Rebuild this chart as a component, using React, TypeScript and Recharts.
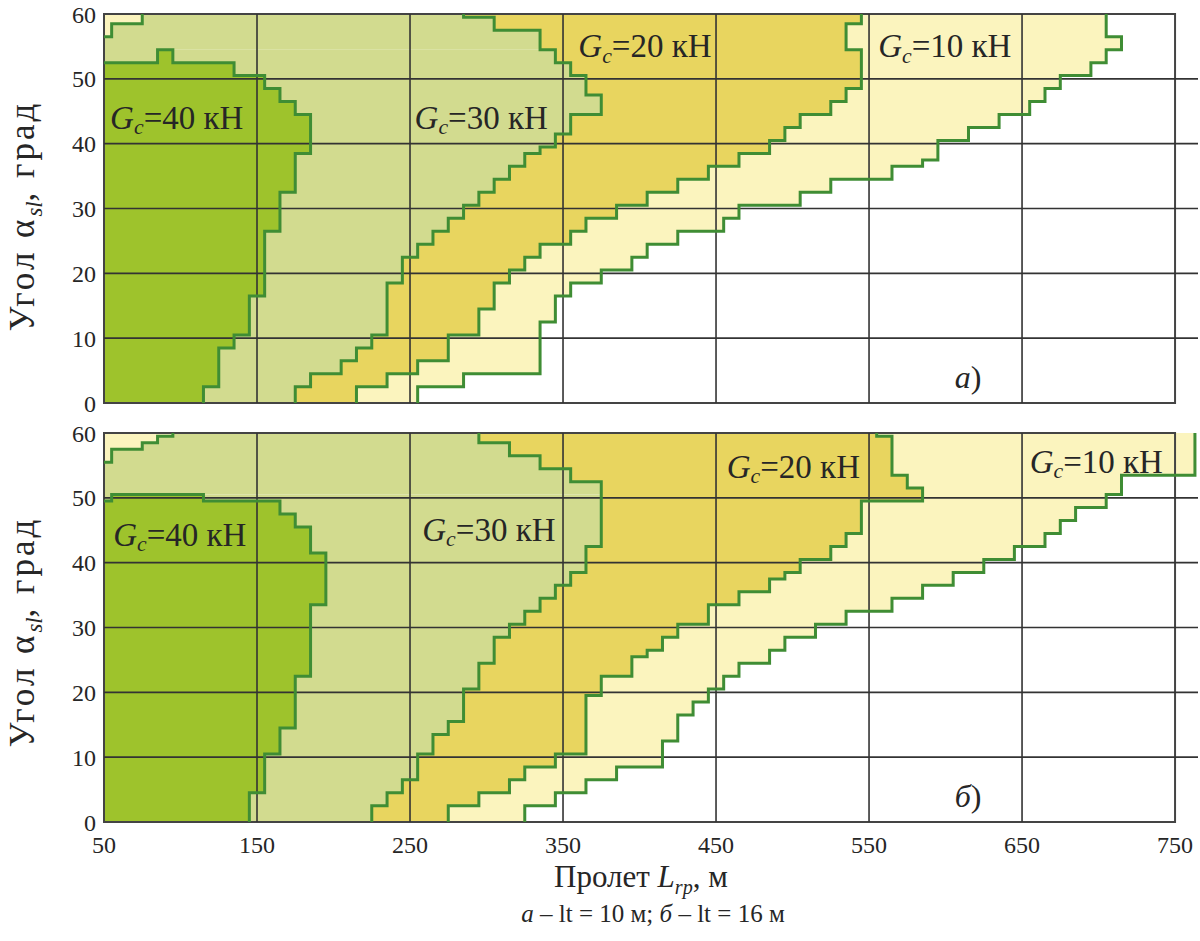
import React from 'react';
import {
  ComposedChart,
  Area,
  Line,
  XAxis,
  YAxis,
  ReferenceLine,
  ReferenceArea,
  ReferenceDot,
} from 'recharts';

// ---------- axes ----------
const ANGLE_TICKS = [0, 10, 20, 30, 40, 50, 60];
const SPAN_TICKS = [50, 150, 250, 350, 450, 550, 650, 750];
const GRID_SPANS = [150, 250, 350, 450, 550, 650];
const GRID_ANGLES = [10, 20, 30, 40, 50];

// ---------- data: boundaries per angle (runs: fromAngle, toAngle, span L, m) ----------
type Run = [number, number, number];

// panel а (lt = 10 m)
const A_PALE0_END: Run[] = [[57, 58, 55], [59, 60, 75]];
const A_DARK_START: Run[] = [[53, 54, 85]];
const A_G40_END: Run[] = [
  [0, 2, 115], [3, 8, 125], [9, 10, 135], [11, 16, 145], [17, 26, 155], [27, 32, 165],
  [33, 38, 175], [39, 44, 185], [45, 46, 175], [47, 48, 165], [49, 50, 155], [51, 52, 135], [53, 54, 95],
];
const A_G30_END: Run[] = [
  [0, 2, 175], [3, 4, 185], [5, 6, 205], [7, 8, 215], [9, 10, 225], [11, 18, 235], [19, 22, 245],
  [23, 24, 255], [25, 26, 265], [27, 28, 275], [29, 30, 285], [31, 32, 295], [33, 34, 305], [35, 36, 315],
  [37, 38, 325], [39, 39, 335], [40, 41, 345], [42, 44, 355], [45, 47, 375], [48, 50, 365], [51, 52, 355],
  [53, 54, 345], [55, 57, 335], [58, 59, 305], [60, 60, 285],
];
const A_G20_END: Run[] = [
  [0, 2, 215], [3, 4, 235], [5, 6, 255], [7, 10, 275], [11, 14, 295], [15, 18, 305], [19, 20, 315],
  [21, 22, 325], [23, 24, 335], [25, 26, 355], [27, 28, 365], [29, 30, 385], [31, 32, 405], [33, 34, 425],
  [35, 36, 445], [37, 38, 465], [39, 40, 485], [41, 42, 495], [43, 44, 505], [45, 46, 525], [47, 48, 535],
  [49, 54, 545], [55, 58, 535], [59, 60, 545],
];
const A_G10_END: Run[] = [
  [0, 2, 255], [3, 4, 285], [5, 12, 335], [13, 16, 345], [17, 18, 355], [19, 20, 375], [21, 22, 395],
  [23, 24, 405], [25, 26, 425], [27, 28, 455], [29, 30, 465], [31, 32, 505], [33, 34, 525], [35, 36, 565],
  [37, 37, 585], [38, 40, 595], [41, 42, 615], [43, 44, 635], [45, 46, 655], [47, 48, 665], [49, 50, 675],
  [51, 52, 695], [53, 54, 705], [55, 56, 715], [57, 60, 705],
];

// panel б (lt = 16 m)
const B_PALE0_END: Run[] = [[56, 57, 55], [58, 58, 75], [59, 59, 85], [60, 60, 95]];
const B_DARK_START: Run[] = [[50, 50, 55]];
const B_G40_END: Run[] = [
  [0, 4, 145], [5, 10, 155], [11, 14, 165], [15, 22, 175], [23, 33, 185], [34, 41, 195],
  [42, 45, 185], [46, 47, 175], [48, 49, 165], [50, 50, 115],
];
const B_G30_END: Run[] = [
  [0, 2, 225], [3, 4, 235], [5, 6, 245], [7, 10, 255], [11, 13, 265], [14, 15, 275], [16, 20, 285],
  [21, 24, 295], [25, 28, 305], [29, 30, 315], [31, 32, 325], [33, 34, 335], [35, 36, 345], [37, 38, 355],
  [39, 42, 365], [43, 52, 375], [53, 54, 355], [55, 56, 335], [57, 58, 315], [59, 60, 295],
];
const B_G20_END: Run[] = [
  [0, 2, 275], [3, 4, 295], [5, 6, 315], [7, 8, 325], [9, 10, 345], [11, 19, 365], [20, 22, 375],
  [23, 25, 395], [26, 26, 405], [27, 28, 415], [29, 30, 425], [31, 33, 445], [34, 35, 465], [36, 37, 485],
  [38, 38, 495], [39, 40, 505], [41, 42, 525], [43, 44, 535], [45, 49, 545], [50, 51, 585], [52, 53, 575],
  [54, 59, 565], [60, 60, 555],
];
const B_G10_END: Run[] = [
  [0, 2, 325], [3, 4, 345], [5, 6, 365], [7, 8, 385], [9, 12, 415], [13, 16, 425], [17, 18, 435],
  [19, 20, 445], [21, 22, 455], [23, 24, 465], [25, 26, 485], [27, 28, 495], [29, 30, 515], [31, 32, 535],
  [33, 34, 565], [35, 36, 585], [37, 38, 605], [39, 40, 625], [41, 42, 645], [43, 44, 665], [45, 46, 675],
  [47, 48, 685], [49, 50, 705], [51, 53, 715], [54, 60, 763],
];

// ---------- styling ----------
const SPAN_MIN = 50;
const SPAN_MAX = 765;
const ANGLE_MAX = 60;
const FONT = '"Liberation Serif", "Times New Roman", serif';
const TEXT = '#262626';
const COLORS: Record<string, string> = {
  p: '#fbf4be',
  l: '#d2db8f',
  d: '#9ec32c',
  y: '#e8d55f',
};
const OUTLINE = '#3f8d34';
const GRID = '#333333';

// ---------- build tables ----------
interface PanelSpec {
  pale0End: Run[];
  darkStart: Run[];
  darkEnd: Run[];
  lightEnd: Run[];
  yellowEnd: Run[];
  paleEnd: Run[];
}
type Seg = { c: string; x0: number; x1: number };
type Pt = [number, number]; // [span, angle]

function expand(runs: Run[]): (number | null)[] {
  const out: (number | null)[] = [];
  for (let r = 0; r <= ANGLE_MAX; r++) out.push(null);
  runs.forEach(([a, b, v]) => {
    for (let r = a; r <= b; r++) out[r] = v;
  });
  return out;
}

function buildRows(p: PanelSpec): Seg[][] {
  const p0 = expand(p.pale0End);
  const ds = expand(p.darkStart);
  const de = expand(p.darkEnd);
  const le = expand(p.lightEnd);
  const ye = expand(p.yellowEnd);
  const pe = expand(p.paleEnd);
  const rows: Seg[][] = [];
  for (let r = 0; r <= ANGLE_MAX; r++) {
    const segs: Seg[] = [];
    let x = SPAN_MIN;
    const push = (c: string, x1: number | null) => {
      if (x1 == null || x1 <= x) return;
      const last = segs[segs.length - 1];
      if (last && last.c === c) last.x1 = x1;
      else segs.push({ c, x0: x, x1 });
      x = x1;
    };
    push('p', p0[r]);
    if (de[r] != null) {
      push('l', ds[r]);
      push('d', de[r]);
    }
    push('l', le[r]);
    push('y', ye[r]);
    push('p', pe[r]);
    push('w', SPAN_MAX);
    rows.push(segs);
  }
  return rows;
}

const LAYERS = ['p', 'l', 'd', 'l', 'y', 'p'];

function buildFill(rows: Seg[][]) {
  const data: any[] = [];
  rows.forEach((segs, r) => {
    const vals: ([number, number] | null)[] = LAYERS.map(() => null);
    let k = 0;
    segs.forEach((s) => {
      if (s.c === 'w') return;
      while (k < LAYERS.length && LAYERS[k] !== s.c) k++;
      if (k < LAYERS.length) {
        vals[k] = [s.x0, s.x1];
        k++;
      }
    });
    let prev = SPAN_MIN;
    const filled = vals.map((v) => {
      if (v) {
        prev = v[1];
        return v;
      }
      return [prev, prev];
    });
    [Math.max(0, r - 0.5), Math.min(ANGLE_MAX, r + 0.5)].forEach((angle) => {
      const e: any = { angle };
      filled.forEach((v, i) => {
        e['L' + i] = v;
      });
      data.push(e);
    });
  });
  return data;
}

function classAt(segs: Seg[], x: number) {
  for (const s of segs) if (x >= s.x0 && x < s.x1) return s.c;
  return 'w';
}

// boundary edges between differently classed cells
function buildEdges(rows: Seg[][]): [Pt, Pt][] {
  const edges: [Pt, Pt][] = [];
  rows.forEach((segs, r) => {
    const lo = Math.max(0, r - 0.5);
    const hi = Math.min(ANGLE_MAX, r + 0.5);
    for (let i = 0; i < segs.length - 1; i++) {
      if (segs[i].c !== segs[i + 1].c) edges.push([[segs[i].x1, lo], [segs[i].x1, hi]]);
    }
    if (r < ANGLE_MAX) {
      const nx = rows[r + 1];
      const bps = Array.from(new Set([...segs, ...nx].flatMap((s) => [s.x0, s.x1]))).sort((a, b) => a - b);
      for (let i = 0; i < bps.length - 1; i++) {
        const m = (bps[i] + bps[i + 1]) / 2;
        if (classAt(segs, m) !== classAt(nx, m)) edges.push([[bps[i], hi], [bps[i + 1], hi]]);
      }
    }
  });
  return edges;
}

// join edges into continuous polylines
function chainEdges(edges: [Pt, Pt][]): Pt[][] {
  const key = (p: Pt) => p[0] + ',' + p[1];
  const adj = new Map<string, number[]>();
  const nodes = new Map<string, Pt>();
  edges.forEach((e, i) => {
    e.forEach((p) => {
      const k = key(p);
      nodes.set(k, p);
      if (!adj.has(k)) adj.set(k, []);
      adj.get(k)!.push(i);
    });
  });
  const used = edges.map(() => false);
  const chains: Pt[][] = [];
  const walk = (start: Pt) => {
    let cur = start;
    const chain: Pt[] = [cur];
    for (;;) {
      const list = adj.get(key(cur)) || [];
      const idx = list.find((i) => !used[i]);
      if (idx === undefined) break;
      used[idx] = true;
      const e = edges[idx];
      cur = key(e[0]) === key(cur) ? e[1] : e[0];
      chain.push(cur);
    }
    if (chain.length > 1) chains.push(chain);
  };
  adj.forEach((list, k) => {
    if (list.length % 2 === 1) {
      while ((adj.get(k) || []).some((i) => !used[i])) walk(nodes.get(k)!);
    }
  });
  edges.forEach((e, i) => {
    if (!used[i]) walk(e[0]);
  });
  return chains;
}

// ---------- annotations ----------
type Note = { span: number; angle: number; value: string };
const A_NOTES: Note[] = [
  { span: 54, angle: 44, value: '40' },
  { span: 253, angle: 44, value: '30' },
  { span: 360, angle: 55, value: '20' },
  { span: 556, angle: 55, value: '10' },
];
const B_NOTES: Note[] = [
  { span: 56, angle: 44.3, value: '40' },
  { span: 258, angle: 45, value: '30' },
  { span: 457, angle: 54.8, value: '20' },
  { span: 655, angle: 55.5, value: '10' },
];

function GcText({ x, y, value }: { x: number; y: number; value: string }) {
  const fs = 33;
  return (
    <text x={x} y={y} fontFamily={FONT} fontSize={fs} fill={TEXT} dominantBaseline="central">
      <tspan fontStyle="italic">G</tspan>
      <tspan fontStyle="italic" fontSize={fs * 0.66} dy={fs * 0.28}>c</tspan>
      <tspan dy={-fs * 0.28}>{'=' + value + ' кН'}</tspan>
    </text>
  );
}

function TagText({ x, y, letter }: { x: number; y: number; letter: string }) {
  return (
    <text x={x} y={y} fontFamily={FONT} fontSize={32} fill={TEXT} dominantBaseline="central">
      <tspan fontStyle="italic">{letter}</tspan>
      <tspan>)</tspan>
    </text>
  );
}

interface PanelProps {
  spec: PanelSpec;
  notes: Note[];
  tag: string;
  showX: boolean;
  height: number;
  top: number;
  bottom: number;
}

function Panel({ spec, notes, tag, showX, height, top, bottom }: PanelProps) {
  const rows = buildRows(spec);
  const fill = buildFill(rows);
  const chains = chainEdges(buildEdges(rows));
  const tickStyle = { fontFamily: FONT, fontSize: 24, fill: TEXT };
  return (
    <ComposedChart
      layout="vertical"
      width={1200}
      height={height}
      data={fill}
      margin={{ top, right: 2, bottom, left: 0 }}
    >
      <XAxis
        type="number"
        domain={[SPAN_MIN, SPAN_MAX]}
        ticks={SPAN_TICKS}
        allowDataOverflow
        hide={!showX}
        axisLine={false}
        tickLine={false}
        tickMargin={8}
        height={34}
        interval={0}
        tick={tickStyle}
      />
      <YAxis
        type="number"
        dataKey="angle"
        domain={[0, ANGLE_MAX]}
        ticks={ANGLE_TICKS}
        allowDataOverflow
        reversed
        width={104}
        axisLine={false}
        tickLine={false}
        interval={0}
        tick={tickStyle}
      />
      {LAYERS.map((c, i) => (
        <Area
          key={'layer' + i}
          dataKey={'L' + i}
          type="linear"
          stroke="none"
          fill={COLORS[c]}
          fillOpacity={1}
          isAnimationActive={false}
          dot={false}
          activeDot={false}
        />
      ))}
      {GRID_SPANS.map((v) => (
        <ReferenceLine key={'gx' + v} x={v} stroke={GRID} strokeWidth={1.6} />
      ))}
      {GRID_ANGLES.map((v) => (
        <ReferenceLine key={'gy' + v} y={v} stroke={GRID} strokeWidth={1.6} />
      ))}
      {chains.map((ch, i) => (
        <Line
          key={'edge' + i}
          data={ch.map(([span, angle]) => ({ span, angle }))}
          dataKey="span"
          type="linear"
          stroke={OUTLINE}
          strokeWidth={3}
          strokeLinecap="square"
          strokeLinejoin="miter"
          dot={false}
          activeDot={false}
          isAnimationActive={false}
        />
      ))}
      <ReferenceArea x1={SPAN_MIN} x2={750} y1={0} y2={ANGLE_MAX} fill="none" fillOpacity={0} stroke="#444" strokeWidth={2} />
      {notes.map((n, i) => (
        <ReferenceDot
          key={'n' + i}
          x={n.span}
          y={n.angle}
          r={0}
          shape={(p: any) => <GcText x={p.cx} y={p.cy} value={n.value} />}
        />
      ))}
      <ReferenceDot x={606} y={4} r={0} shape={(p: any) => <TagText x={p.cx} y={p.cy} letter={tag} />} />
    </ComposedChart>
  );
}

const PANEL_A: PanelSpec = {
  pale0End: A_PALE0_END,
  darkStart: A_DARK_START,
  darkEnd: A_G40_END,
  lightEnd: A_G30_END,
  yellowEnd: A_G20_END,
  paleEnd: A_G10_END,
};
const PANEL_B: PanelSpec = {
  pale0End: B_PALE0_END,
  darkStart: B_DARK_START,
  darkEnd: B_G40_END,
  lightEnd: B_G30_END,
  yellowEnd: B_G20_END,
  paleEnd: B_G10_END,
};

function YTitle({ cy }: { cy: number }) {
  return (
    <div
      style={{
        position: 'absolute',
        left: 26,
        top: cy,
        width: 400,
        transform: 'translate(-50%, -50%) rotate(-90deg)',
        textAlign: 'center',
        fontFamily: FONT,
        fontSize: 35,
        letterSpacing: 3,
        color: TEXT,
        whiteSpace: 'nowrap',
        lineHeight: 1,
      }}
    >
      Угол α<sub style={{ fontStyle: 'italic', fontSize: '0.65em', letterSpacing: 0 }}>sl</sub>, град
    </div>
  );
}

export default function App() {
  return (
    <div style={{ position: 'absolute', left: 0, top: 0, width: 1200, height: 941, background: '#fff', overflow: 'hidden' }}>
      <div style={{ position: 'absolute', left: 0, top: 0 }}>
        <Panel spec={PANEL_A} notes={A_NOTES} tag="а" showX={false} height={420} top={14} bottom={17} />
      </div>
      <div style={{ position: 'absolute', left: 0, top: 420 }}>
        <Panel spec={PANEL_B} notes={B_NOTES} tag="б" showX={true} height={521} top={13} bottom={85} />
      </div>
      <YTitle cy={216} />
      <YTitle cy={632} />
      <div
        style={{
          position: 'absolute',
          left: 641,
          top: 879,
          transform: 'translate(-50%, -50%)',
          fontFamily: FONT,
          fontSize: 31,
          color: TEXT,
          whiteSpace: 'nowrap',
          lineHeight: 1,
        }}
      >
        Пролет <i>L</i>
        <sub style={{ fontStyle: 'italic', fontSize: '0.65em' }}>rp</sub>, м
      </div>
      <div
        style={{
          position: 'absolute',
          left: 653,
          top: 913,
          transform: 'translate(-50%, -50%)',
          fontFamily: FONT,
          fontSize: 25,
          color: TEXT,
          whiteSpace: 'nowrap',
          lineHeight: 1,
        }}
      >
        <i>а</i> – lt = 10 м; <i>б</i> – lt = 16 м
      </div>
    </div>
  );
}
